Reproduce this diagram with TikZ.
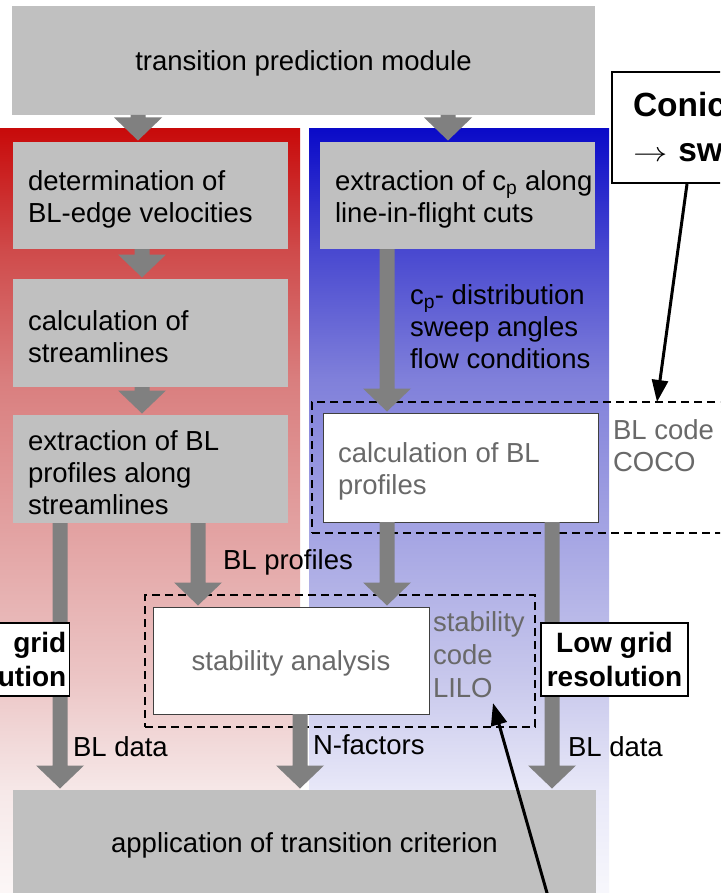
\documentclass[tikz,border=0pt]{standalone}
\usepackage{fontspec}
\usepackage{graphicx}
\setmainfont{Liberation Sans}
\usetikzlibrary{arrows.meta,calc}

\definecolor{boxgray}{RGB}{192,192,192}
\definecolor{arrowgray}{RGB}{128,128,128}
\definecolor{txtgray}{RGB}{105,105,105}
\definecolor{rA}{RGB}{252,247,247}
\definecolor{rB}{RGB}{246,232,232}
\definecolor{rC}{RGB}{236,198,198}
\definecolor{rD}{RGB}{217,126,126}
\definecolor{rE}{RGB}{207,74,74}
\definecolor{rF}{RGB}{200,10,10}
\definecolor{bA}{RGB}{247,247,252}
\definecolor{bB}{RGB}{232,232,248}
\definecolor{bC}{RGB}{200,200,236}
\definecolor{bD}{RGB}{128,128,218}
\definecolor{bE}{RGB}{72,72,208}
\definecolor{bF}{RGB}{10,10,200}

\pgfdeclareverticalshading{redpanel}{100bp}{color(0bp)=(rA); color(25bp)=(rA); color(31.7bp)=(rB); color(38.9bp)=(rC); color(58.6bp)=(rD); color(67.1bp)=(rE); color(75bp)=(rF); color(100bp)=(rF)}
\pgfdeclareverticalshading{bluepanel}{100bp}{color(0bp)=(bA); color(25bp)=(bA); color(31.7bp)=(bB); color(38.9bp)=(bC); color(58.6bp)=(bD); color(67.1bp)=(bE); color(75bp)=(bF); color(100bp)=(bF)}

\newcommand{\mainfs}{\fontsize{27.5}{32}\selectfont}
\newcommand{\garrow}[3]{%
  \path (#2.south -| #1) coordinate (gA) ([yshift=1.5pt]#3.north -| #1) coordinate (gB);
  \fill[arrowgray] ([xshift=-7.5pt]gA) -- ([xshift=-7.5pt,yshift=23pt]gB) -- ([xshift=-24pt,yshift=23pt]gB) -- (gB) -- ([xshift=24pt,yshift=23pt]gB) -- ([xshift=7.5pt,yshift=23pt]gB) -- ([xshift=7.5pt]gA) -- cycle;
}

\tikzset{
  box/.style={anchor=north west, inner sep=0pt, outer sep=0pt, font=\mainfs, align=center},
  graybox/.style={box, fill=boxgray},
  whitebox/.style={box, fill=white, draw=black!75, line width=0.8pt},
  dashbox/.style={box, draw=black, line width=1.9pt, dash pattern=on 8pt off 5pt},
  txt/.style={inner sep=0pt, outer sep=0pt, font=\mainfs, align=left, anchor=west},
  intxt/.style={txt, yshift=-4pt},
  lowbox/.style={draw=black, line width=1.5pt, fill=white, inner sep=0pt, minimum width=147pt, minimum height=73pt, font=\fontsize{28}{34}\selectfont\bfseries, align=center},
  conicbox/.style={anchor=north west, draw=black, line width=2pt, fill=white, inner xsep=21pt, inner ysep=0pt, text width=150pt, minimum height=111pt, font=\fontsize{33.5}{45}\selectfont\bfseries, align=left},
  blackarrow/.style={draw=black, line width=3pt, -{Triangle[length=22pt,width=16pt]}}
}

\begin{document}
\begin{tikzpicture}[x=1pt,y=-1pt]
\useasboundingbox (0,0) rectangle (720,893);
\clip (0,0) rectangle (720,893);
\fill[white] (0,0) rectangle (720,893);
\shade[shading=redpanel] (0,129) rectangle (300,893);
\shade[shading=bluepanel] (309,129) rectangle (609,893);

% x positions of the arrows
\coordinate (xa) at (138,0);
\coordinate (xb) at (448,0);
\coordinate (xc) at (142,0);
\coordinate (xd) at (60,0);
\coordinate (xe) at (198,0);
\coordinate (xf) at (387,0);
\coordinate (xg) at (552,0);
\coordinate (xh) at (300,0);
\coordinate (xk1) at (687,0);
\coordinate (xk2) at (657,0);
\coordinate (xk4) at (493,0);

% gray boxes
\node[graybox, minimum width=583pt, minimum height=109pt, text depth=0pt] (top) at (12,6) {transition prediction module};
\node[graybox, minimum width=275pt, minimum height=107pt] (b1) at (13,142) {};
\node[graybox, minimum width=275pt, minimum height=108pt] (b2) at (13,279) {};
\node[graybox, minimum width=275pt, minimum height=108pt] (b3) at (13,415) {};
\node[graybox, minimum width=275pt, minimum height=107pt] (bb1) at (320,142) {};
\node[graybox, minimum width=583pt, minimum height=106pt, text depth=0pt] (bot) at (13,790) {application of transition criterion};

% dashed boxes
\node[dashbox, minimum width=448pt, minimum height=131pt] (cocobox) at (312,402) {};
\node[dashbox, minimum width=390pt, minimum height=132pt] (lilobox) at (145,595) {};

% white boxes
\node[whitebox, minimum width=275pt, minimum height=109pt] (calc) at (323,413) {};
\node[whitebox, minimum width=276pt, minimum height=107pt, text depth=0pt, text=txtgray] (stab) at (153,607) {stability analysis};

% box texts
\node[intxt] (t1) at ([xshift=15pt]b1.west) {determination of\\BL-edge velocities};
\node[intxt] (t2) at ([xshift=15pt]b2.west) {calculation of\\streamlines};
\node[intxt] (t3) at ([xshift=15pt]b3.west) {extraction of BL\\profiles along\\streamlines};
\node[intxt] (t4) at ([xshift=15pt]bb1.west) {extraction of c\textsubscript{p} along\\line-in-flight cuts};
\node[intxt, text=txtgray] (t5) at ([xshift=15pt]calc.west) {calculation of BL\\profiles};

% gray arrows
\garrow{xa}{top}{b1}
\garrow{xb}{top}{bb1}
\garrow{xc}{b1}{b2}
\garrow{xc}{b2}{b3}
\garrow{xd}{b3}{bot}
\garrow{xe}{b3}{stab}
\garrow{xf}{bb1}{calc}
\garrow{xf}{calc}{stab}
\garrow{xg}{calc}{bot}
\garrow{xh}{stab}{bot}

% free labels
\node[txt] (cpd) at (410,327) {c\textsubscript{p}- distribution\\sweep angles\\flow conditions};
\node[txt, text=txtgray] (coco) at (613,446) {BL code\\COCO};
\node[txt, text=txtgray, font=\fontsize{27.5}{33}\selectfont] (lilo) at (433,655) {stability\\code\\LILO};
\node[txt] (blp) at (223,562) {BL profiles};
\node[txt] (nf) at (313,745) {N-factors};
\node[txt] (bld1) at (73,747) {BL data};
\node[txt] (bld2) at (568,747) {BL data};

% resolution boxes
\node[lowbox] (lgr) at (614.5,659.5) {Low grid\\resolution};
\node[lowbox, anchor=east, text width=141pt, align=right] (lgl) at (70,659.5) {grid\hspace*{6pt}\\ution};

% conic box
\node[conicbox] (conic) at (611,71) {Conic\\\scalebox{1.38}[1.1]{$\rightarrow$}\hspace{11pt}sw};

% black arrows
\coordinate (k3) at (549,900);
\draw[blackarrow] (conic.south -| xk1) -- (cocobox.north -| xk2);
\draw[blackarrow] (k3) -- ([yshift=-5pt]lilo.south -| xk4);
\end{tikzpicture}
\end{document}
